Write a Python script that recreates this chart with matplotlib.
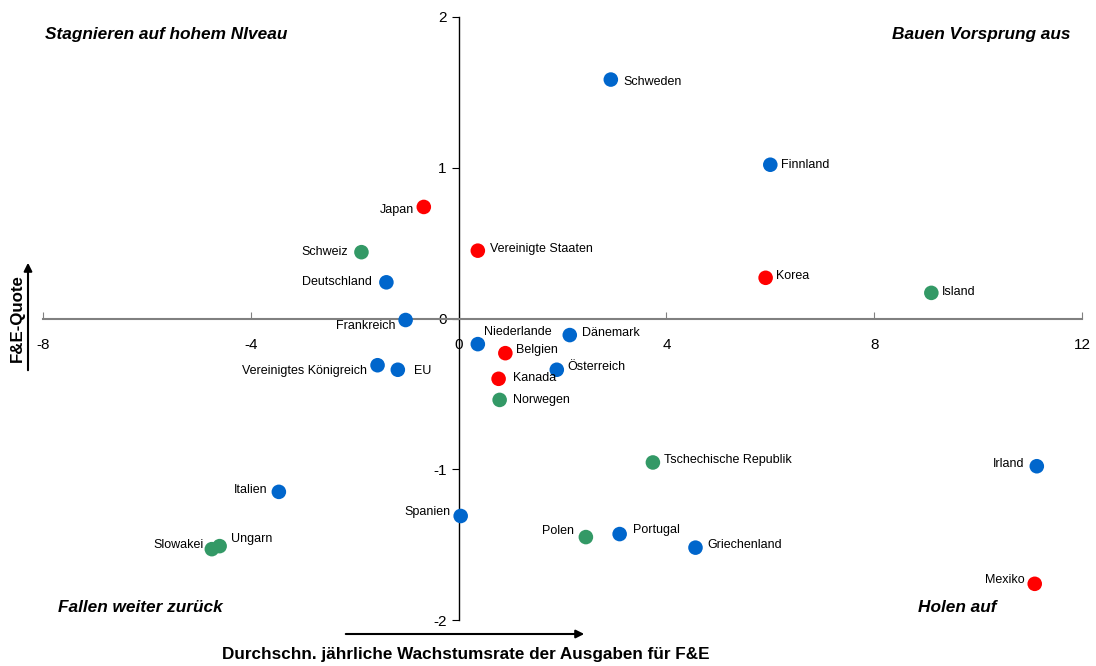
import matplotlib.pyplot as plt

plt.rcParams['font.family'] = ['Liberation Sans', 'DejaVu Sans']
plt.rcParams['axes.unicode_minus'] = False

BLUE = '#0066CC'
RED = '#FF0000'
GREEN = '#339966'

countries = ['Schweden', 'Finnland', 'Japan', 'Schweiz', 'Vereinigte Staaten', 'Korea',
             'Island', 'Deutschland', 'Frankreich', 'Niederlande', 'Dänemark', 'Belgien',
             'Österreich', 'Kanada', 'Norwegen', 'Vereinigtes Königreich', 'EU',
             'Tschechische Republik', 'Irland', 'Italien', 'Spanien', 'Polen', 'Portugal',
             'Griechenland', 'Ungarn', 'Slowakei', 'Mexiko']
growth = [2.93, 6.0, -0.67, -1.87, 0.37, 5.91, 9.1, -1.39, -1.02, 0.37, 2.14, 0.9,
          1.89, 0.77, 0.79, -1.56, -1.17, 3.74, 11.13, -3.46, 0.04, 2.45, 3.1,
          4.56, -4.6, -4.75, 11.09]
quote = [1.585, 1.02, 0.74, 0.44, 0.45, 0.27, 0.17, 0.24, -0.01, -0.17, -0.11, -0.23,
         -0.34, -0.40, -0.54, -0.31, -0.34, -0.955, -0.98, -1.15, -1.31, -1.45, -1.43,
         -1.52, -1.51, -1.53, -1.76]
colors = [BLUE, BLUE, RED, GREEN, RED, RED, GREEN, BLUE, BLUE, BLUE, BLUE, RED,
          BLUE, RED, GREEN, BLUE, BLUE, GREEN, BLUE, BLUE, BLUE, GREEN, BLUE,
          BLUE, GREEN, GREEN, RED]

# label offsets in pixels (dx, dy) and horizontal alignment
offsets = {
    'Schweden': (13, -2, 'left'), 'Finnland': (11, 0, 'left'), 'Japan': (-10, -3, 'right'),
    'Schweiz': (-13, 0, 'right'), 'Vereinigte Staaten': (12, 2, 'left'),
    'Korea': (10, 2, 'left'), 'Island': (11, 1, 'left'), 'Deutschland': (-15, 0, 'right'),
    'Frankreich': (-10, -6, 'right'), 'Niederlande': (6, 12, 'left'),
    'Dänemark': (12, 2, 'left'), 'Belgien': (11, 3, 'left'), 'Österreich': (11, 3, 'left'),
    'Kanada': (14, 1, 'left'), 'Norwegen': (13, 0, 'left'),
    'Vereinigtes Königreich': (-11, -6, 'right'), 'EU': (16, -1, 'left'),
    'Tschechische Republik': (11, 2, 'left'), 'Irland': (-12, 2, 'right'),
    'Italien': (-11, 2, 'right'), 'Spanien': (-10, 4, 'right'), 'Polen': (-12, 6, 'right'),
    'Portugal': (13, 4, 'left'), 'Griechenland': (12, 3, 'left'), 'Ungarn': (11, 7, 'left'),
    'Slowakei': (-8, 4, 'right'), 'Mexiko': (-10, 4, 'right'),
}

fig = plt.figure(figsize=(10.96, 6.66), dpi=100)
ax = fig.add_axes([43 / 1096, 46 / 666, 1039 / 1096, 603 / 666])
ax.set_xlim(-8, 12)
ax.set_ylim(-2, 2)

ax.spines['top'].set_visible(False)
ax.spines['right'].set_visible(False)
ax.spines['left'].set_position(('data', 0))
ax.spines['bottom'].set_position(('data', 0))
ax.spines['left'].set_color('black')
ax.spines['bottom'].set_color('#808080')
ax.spines['bottom'].set_linewidth(1.5)
ax.spines['left'].set_linewidth(1.0)
ax.set_xticks([-8, -4, 0, 4, 8, 12])
ax.set_yticks([-2, -1, 0, 1, 2])
ax.tick_params(axis='x', direction='in', length=5, color='#808080', pad=14, labelsize=11)
ax.tick_params(axis='y', direction='out', length=5, labelsize=11)
ax.patch.set_alpha(0)

ax.scatter(growth, quote, s=110, c=colors, zorder=3, linewidths=0)

for name, gx, qy in zip(countries, growth, quote):
    dx, dy, ha = offsets[name]
    ax.annotate(name, (gx, qy), xytext=(dx * 0.72, dy * 0.72), textcoords='offset points',
                ha=ha, va='center', fontsize=9)

qfont = dict(fontsize=12.4, fontweight='bold', fontstyle='italic', va='center')
fig.text(45 / 1096, 1 - 35 / 666, 'Stagnieren auf hohem NIveau', ha='left', **qfont)
fig.text(1070 / 1096, 1 - 35 / 666, 'Bauen Vorsprung aus', ha='right', **qfont)
fig.text(58 / 1096, 1 - 607 / 666, 'Fallen weiter zurück', ha='left', **qfont)
fig.text(997 / 1096, 1 - 607 / 666, 'Holen auf', ha='right', **qfont)

# axis titles with arrows
fig.text(17 / 1096, 1 - 318 / 666, 'F&E-Quote', rotation=90, ha='center', va='center',
         fontsize=12.2, fontweight='bold')
fig.add_artist(plt.Annotation('', xy=(28 / 1096, 1 - 260 / 666), xytext=(28 / 1096, 1 - 373 / 666),
                              xycoords='figure fraction',
                              arrowprops=dict(arrowstyle='-|>', color='black', lw=1.5,
                                              mutation_scale=12)))
fig.text(466 / 1096, 1 - 655 / 666, 'Durchschn. jährliche Wachstumsrate der Ausgaben für F&E',
         ha='center', va='center', fontsize=12.3, fontweight='bold')
fig.add_artist(plt.Annotation('', xy=(587 / 1096, 1 - 634 / 666), xytext=(343 / 1096, 1 - 634 / 666),
                              xycoords='figure fraction',
                              arrowprops=dict(arrowstyle='-|>', color='black', lw=1.5,
                                              mutation_scale=12)))

fig.savefig('out.png', dpi=100)
